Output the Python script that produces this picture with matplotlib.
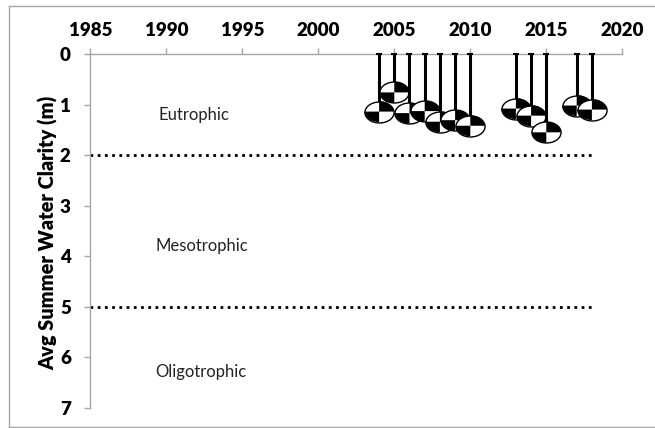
"""Secchi depth chart: average summer water clarity by year."""

import matplotlib
matplotlib.use("Agg")
import matplotlib.pyplot as plt
from matplotlib.lines import Line2D
from matplotlib.path import Path

years = [2004, 2005, 2006, 2007, 2008, 2009, 2010, 2013, 2014, 2015, 2017, 2018]
clarity = [1.14, 0.76, 1.17, 1.13, 1.34, 1.31, 1.42, 1.08, 1.22, 1.55, 1.02, 1.10]
zone_names = ["Eutrophic", "Mesotrophic", "Oligotrophic"]
zone_x = [1989.5, 1989.3, 1989.3]
zone_y = [1.21, 3.80, 6.30]
zone_limits = [2, 5]
limit_x = [1985, 2018]
x_ticks = [1985, 1990, 1995, 2000, 2005, 2010, 2015, 2020]
y_ticks = [0, 1, 2, 3, 4, 5, 6, 7]

W, H = 655, 428
GREY = "#a6a6a6"
DISK_SIZE = 440

plt.rcParams["font.family"] = "Lato"


def ellipse_marker():
    circle = Path.unit_circle()
    return Path(circle.vertices * [1, 0.72], circle.codes)


def quadrant_marker(sx, sy):
    arc = Path.arc(0, 90)
    verts = [(0, 0)] + [(x * sx, y * sy * 0.72) for x, y in arc.vertices] + [(0, 0)]
    codes = [Path.MOVETO, Path.LINETO] + list(arc.codes[1:]) + [Path.CLOSEPOLY]
    return Path(verts, codes)


fig = plt.figure(figsize=(W / 100, H / 100), dpi=100)
# рамка картинки: справа её нет, линии уходят за край
fig.add_artist(Line2D([9 / W, 9 / W], [1 - 6 / H, 1 - 427 / H], color=GREY, linewidth=1))
fig.add_artist(Line2D([9 / W, 1], [1 - 6 / H, 1 - 6 / H], color=GREY, linewidth=1))
fig.add_artist(Line2D([9 / W, 1], [1 - 427 / H, 1 - 427 / H], color=GREY, linewidth=1))
ax = fig.add_axes([90.3 / W, 1 - 407.7 / H, 532 / W, 353.7 / H])

ax.set_xlim(1985, 2020)
ax.set_ylim(7, 0)
ax.xaxis.tick_top()
ax.set_xticks(x_ticks)
ax.set_yticks(y_ticks)
for side in ("right", "bottom"):
    ax.spines[side].set_visible(False)
for side in ("left", "top"):
    ax.spines[side].set_color(GREY)
    ax.spines[side].set_linewidth(1)
ax.tick_params(labelcolor="black", labelsize=13.5, length=4.5, width=1, color=GREY)
ax.tick_params(axis="x", pad=6)
ax.tick_params(axis="y", pad=9.5)
for lab in ax.get_xticklabels() + ax.get_yticklabels():
    lab.set_fontweight(800)
ax.set_ylabel("Avg Summer Water Clarity (m)", fontsize=14.3, fontweight=800,
              labelpad=1, y=0.495)

for y in zone_limits:
    ax.plot(limit_x, [y, y], color="black", linewidth=2, linestyle=(0, (1, 1.6)), zorder=2)
for name, x, y in zip(zone_names, zone_x, zone_y):
    ax.text(x, y, name, fontsize=12, ha="left", va="center", color="#222222")

disk = ellipse_marker()
black_quads = [quadrant_marker(1, 1), quadrant_marker(-1, -1)]
z = 3
for year, value in zip(years, clarity):
    ax.errorbar([year], [value], yerr=[[value], [0]], fmt="none", ecolor="black",
                elinewidth=2.2, capsize=2.5, capthick=1.5, zorder=z, clip_on=False)
    ax.scatter([year], [value], marker=disk, s=DISK_SIZE, facecolor="white", edgecolor="black",
               linewidth=1, zorder=z + 1, clip_on=False)
    for quad in black_quads:
        ax.scatter([year], [value], marker=quad, s=DISK_SIZE, facecolor="black", edgecolor="none",
                   zorder=z + 2, clip_on=False)
    z += 3

fig.savefig("out.png", dpi=100)
